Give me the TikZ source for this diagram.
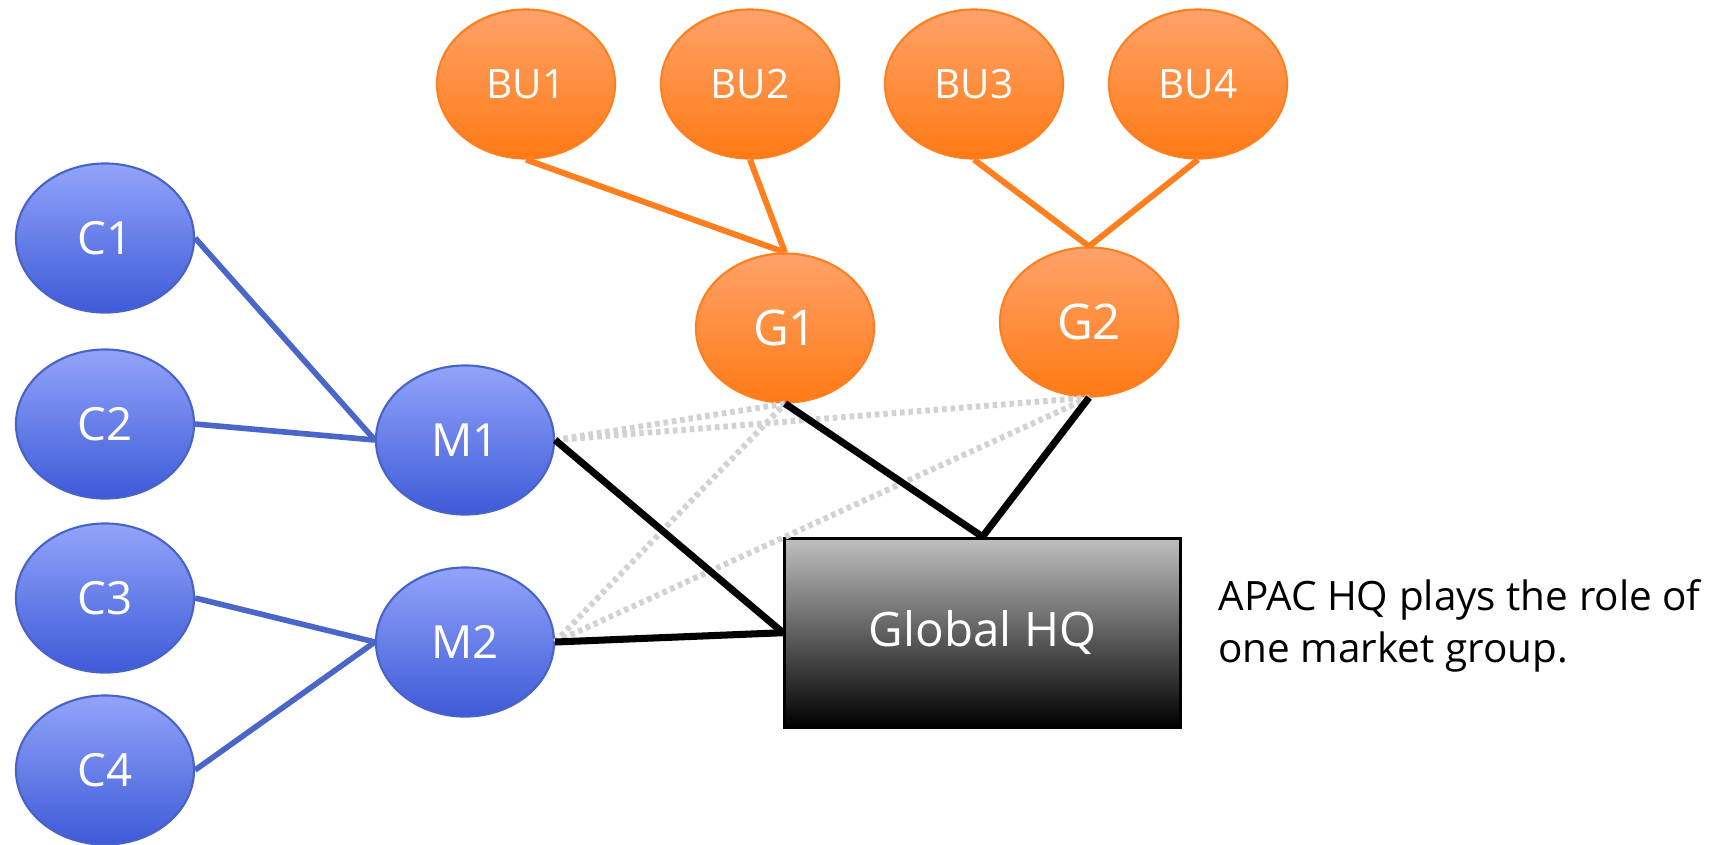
\documentclass[tikz,border=0pt]{standalone}
\usepackage{fontspec}
\setmainfont{Open Sans}
\usetikzlibrary{shapes.geometric}
\definecolor{ctop}{RGB}{146,164,250}
\definecolor{cbot}{RGB}{62,90,216}
\definecolor{cedge}{RGB}{72,98,200}
\definecolor{cline}{RGB}{74,102,200}
\definecolor{otop}{RGB}{255,162,106}
\definecolor{obot}{RGB}{255,122,20}
\definecolor{oedge}{RGB}{255,127,30}
\definecolor{softgray}{RGB}{210,210,210}

\begin{document}
\begin{tikzpicture}[x=0.01cm, y=-0.01cm,
  bubble/.style={ellipse, minimum width=1.78cm, minimum height=1.49cm,
                 inner sep=0pt, line width=0.6pt, text=white},
  cty/.style={bubble, draw=cedge, top color=ctop, bottom color=cbot,
              font=\fontsize{13}{15}\selectfont},
  unit/.style={bubble, draw=oedge, top color=otop, bottom color=obot,
               font=\fontsize{11.5}{14}\selectfont},
  grp/.style={unit, font=\fontsize{14}{16}\selectfont}]
  \useasboundingbox (0,0) rectangle (1726,844);

  % Business units
  \node[unit] (bu1) at (526,84) {BU1};
  \node[unit] (bu2) at (750,84) {BU2};
  \node[unit] (bu3) at (974,84) {BU3};
  \node[unit] (bu4) at (1198,84) {BU4};

  % Groups
  \node[grp] (g1) at (785,328) {G1};
  \node[grp] (g2) at (1089,322) {G2};

  % Countries and markets
  \node[cty] (c1) at (105,238) {C1};
  \node[cty] (c2) at (105,424) {C2};
  \node[cty] (c3) at (105,598) {C3};
  \node[cty] (c4) at (105,770) {C4};
  \node[cty] (m1) at (465,440) {M1};
  \node[cty] (m2) at (465,642) {M2};

  % Headquarters
  \node[draw=black, line width=0.8pt, top color=black!25, bottom color=black,
        minimum width=3.96cm, minimum height=1.89cm, text=white,
        font=\fontsize{13.5}{16}\selectfont] (hq) at (982.5,632.7) {Global HQ};
  \node[anchor=west, align=left, font=\fontsize{11.5}{14.8}\selectfont]
    (note) at (1206,626) {APAC HQ plays the role of\\one market group.};

  % Weak ties
  \draw[softgray, line width=1.7pt, dash pattern=on 1.3pt off 1.1pt]
    (m1.east) -- (g1.south);
  \draw[softgray, line width=1.7pt, dash pattern=on 1.3pt off 1.1pt]
    (m1.east) -- (g2.south);
  \draw[softgray, line width=1.7pt, dash pattern=on 1.3pt off 1.1pt]
    (m2.east) -- (g1.south);
  \draw[softgray, line width=1.7pt, dash pattern=on 1.3pt off 1.1pt]
    (m2.east) -- (g2.south);

  % Reporting lines
  \draw[cline, line width=1.6pt] (c1.east) -- (m1.west);
  \draw[cline, line width=1.6pt] (c2.east) -- (m1.west);
  \draw[cline, line width=1.6pt] (c3.east) -- (m2.west);
  \draw[cline, line width=1.6pt] (c4.east) -- (m2.west);
  \draw[oedge, line width=1.7pt] (bu1.south) -- (g1.north);
  \draw[oedge, line width=1.7pt] (bu2.south) -- (g1.north);
  \draw[oedge, line width=1.7pt] (bu3.south) -- (g2.north);
  \draw[oedge, line width=1.7pt] (bu4.south) -- (g2.north);
  \draw[black, line width=2pt] (g1.south) -- (hq.north);
  \draw[black, line width=2pt] (g2.south) -- (hq.north);
  \draw[black, line width=2pt] (m1.east) -- (hq.west);
  \draw[black, line width=2pt] (m2.east) -- (hq.west);
\end{tikzpicture}
\end{document}
